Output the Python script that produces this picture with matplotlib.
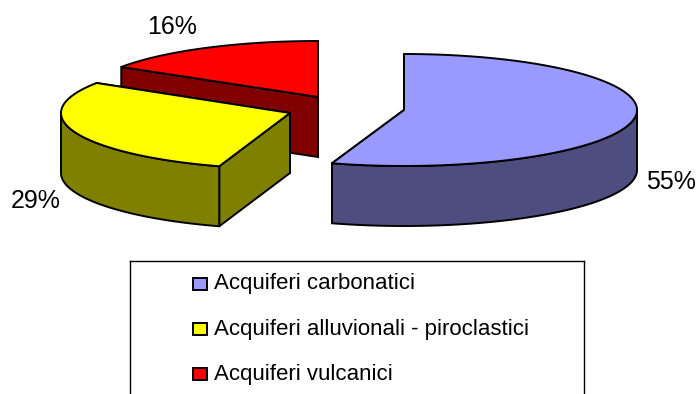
import numpy as np
import matplotlib
matplotlib.use("Agg")
import matplotlib.pyplot as plt
from matplotlib.patches import Polygon, Rectangle

plt.rcParams["font.family"] = ["Liberation Sans", "DejaVu Sans"]

labels = ["Acquiferi carbonatici", "Acquiferi alluvionali - piroclastici", "Acquiferi vulcanici"]
values = [55, 29, 16]
colors = ["#9999FF", "#FFFF00", "#FF0000"]
side_colors = ["#4D4D80", "#808000", "#800000"]

# exploded slice centres, pixels
centres = [(404, 110), (290, 113), (318, 97)]
radii = [233, 229, 233]
pct_pos = [(671, 189), (36, 208), (172, 34)]
legend_base = [289, 335, 380]
swatch_y = [284, 329, 374]

RY = 56
DEPTH = 60
LW = 1.4


def rim(c, rx, deg):
    a = np.radians(deg)
    return np.column_stack([c[0] + rx * np.sin(a), c[1] - RY * np.cos(a)])


def draw_slice(ax, c, rx, start, end, col, side):
    # cut faces first, back one before the front one
    for deg in sorted([start, end], key=lambda d: np.cos(np.radians(d)), reverse=True):
        p = rim(c, rx, np.array([deg]))[0]
        face = [c, p, (p[0], p[1] + DEPTH), (c[0], c[1] + DEPTH)]
        ax.add_patch(Polygon(face, fc=side, ec="black", lw=LW))

    # outer wall, only the front half shows
    lo, hi = max(start, 90), min(end, 270)
    if hi > lo:
        arc = rim(c, rx, np.linspace(lo, hi, 120))
        wall = np.vstack([arc, (arc + [0, DEPTH])[::-1]])
        ax.add_patch(Polygon(wall, fc=side, ec="black", lw=LW))

    arc = rim(c, rx, np.linspace(start, end, 200))
    ax.add_patch(Polygon(np.vstack([[c], arc]), fc=col, ec="black", lw=LW))


fig = plt.figure(figsize=(6.99, 3.94), dpi=100)
ax = fig.add_axes([0, 0, 1, 1])
ax.set_xlim(0, 699)
ax.set_ylim(394, 0)
ax.axis("off")

angles = np.cumsum([0] + values) * 3.6
# red at the back, blue last
for i in [2, 1, 0]:
    draw_slice(ax, centres[i], radii[i], angles[i], angles[i + 1], colors[i], side_colors[i])

for v, (x, y) in zip(values, pct_pos):
    ax.text(x, y, f"{v}%", fontsize=18, ha="center", va="baseline")

ax.plot([130, 130], [394, 261], color="black", lw=1)
ax.plot([130, 584], [261, 261], color="black", lw=1)
ax.plot([584, 584], [261, 394], color="black", lw=1)

for name, col, yb, ys in zip(labels, colors, legend_base, swatch_y):
    ax.add_patch(Rectangle((193, ys - 6), 14, 12, fc=col, ec="black", lw=1.4))
    ax.text(214, yb, name, fontsize=16, ha="left", va="baseline")

fig.savefig("out.png", dpi=100)
